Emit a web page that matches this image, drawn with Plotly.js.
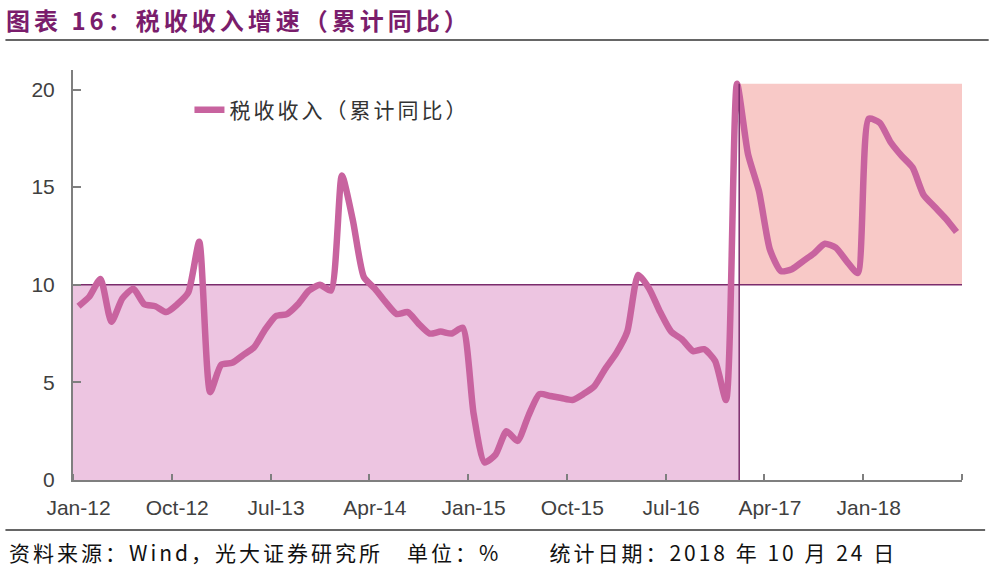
<!DOCTYPE html>
<html>
<head>
<meta charset="utf-8">
<script src="https://cdn.plot.ly/plotly-3.0.1.min.js"></script>
<style>
  html, body { margin: 0; padding: 0; background: #ffffff; }
  #chart { width: 1000px; height: 571px; }
  .gtitle { letter-spacing: 4px; }
  .legendtext { letter-spacing: 3px; }
  .annotation-text { letter-spacing: 3px; }
</style>
</head>
<body>
<div id="chart"></div>
<script>
// ---- data: cumulative YoY growth of tax revenue (%), monthly Jan-12 .. Sep-18 ----
var startYear = 2012;
var vals2012 = [8.9, 9.4, 10.3, 8.1, 9.3, 9.8, 9.0, 8.9, 8.6, 9.0, 9.6, 12.2];
var vals2013 = [4.5, 5.9, 6.0, 6.4, 6.8, 7.7, 8.4, 8.5, 9.0, 9.7, 10.0, 9.7];
var vals2014 = [15.6, 13.3, 10.4, 9.8, 9.1, 8.5, 8.6, 8.0, 7.5, 7.6, 7.5, 7.8];
var vals2015 = [3.4, 0.9, 1.3, 2.5, 2.0, 3.3, 4.4, 4.3, 4.2, 4.1, 4.4, 4.8];
var vals2016 = [5.7, 6.5, 7.6, 10.5, 9.8, 8.6, 7.6, 7.2, 6.6, 6.7, 6.1, 4.1];
var vals2017 = [20.3, 16.7, 14.8, 11.8, 10.7, 10.8, 11.2, 11.6, 12.1, 11.9, 11.2, 10.6];
var vals2018 = [18.5, 18.3, 17.3, 16.6, 16.0, 14.6, 14.0, 13.4, 12.7];

var tickLabels = ['Jan-12', 'Oct-12', 'Jul-13', 'Apr-14', 'Jan-15', 'Oct-15', 'Jul-16', 'Apr-17', 'Jan-18'];
var seriesName = '税收收入（累计同比）';
var titleText = '图表 16：税收收入增速（累计同比）';
var footerText = '资料来源：Wind，光大证券研究所　单位：%　　统计日期：2018 年 10 月 24 日';

// ---- build ----
var values = [].concat(vals2012, vals2013, vals2014, vals2015, vals2016, vals2017, vals2018);
var monNames = ['Jan','Feb','Mar','Apr','May','Jun','Jul','Aug','Sep','Oct','Nov','Dec'];
var monthLabels = values.map(function (v, i) {
  var y = startYear + Math.floor(i / 12);
  return monNames[i % 12] + '-' + String(y).slice(2);
});
// month i is drawn at the middle of its month slot
var xs = values.map(function (v, i) { return i + 0.5; });
var nSlots = values.length; // axis runs from start of Jan-12 to end of Sep-18
var labelVals = tickLabels.map(function (t, k) { return k * 9 + 0.5; });
var tickMarks = [];
for (var k = 0; k <= nSlots; k += 9) tickMarks.push(k);

var peakIdx = 60; // Jan-17
var peakX = xs[peakIdx] + 0.2;
var peakY = values[peakIdx];

var lineColor = '#c8639f';
var darkLine = '#7b2c6c';

var trace = {
  x: xs,
  y: values,
  text: monthLabels,
  type: 'scatter',
  mode: 'lines',
  name: seriesName,
  line: { color: lineColor, width: 6.5, shape: 'spline', smoothing: 0.6 },
  hovertemplate: '%{text}: %{y:.1f}%<extra></extra>'
};

var layout = {
  width: 1000,
  height: 571,
  margin: { l: 73, r: 38, t: 70, b: 91 },
  paper_bgcolor: '#ffffff',
  plot_bgcolor: '#ffffff',
  font: { family: 'Liberation Sans, Arial, sans-serif', color: '#404040' },
  showlegend: true,
  legend: {
    x: 0.131, y: 0.902, xanchor: 'left', yanchor: 'middle',
    bgcolor: 'rgba(0,0,0,0)',
    font: { family: 'Noto Sans CJK SC, sans-serif', size: 21, color: '#333333' }
  },
  title: {
    text: '<b>' + titleText + '</b>',
    x: 0.006, xanchor: 'left', xref: 'container',
    y: 0.962, yanchor: 'middle', yref: 'container',
    font: { family: 'Noto Sans CJK SC, sans-serif', size: 24, color: '#7a1d6c' }
  },
  xaxis: {
    range: [0, nSlots],
    tickmode: 'array',
    tickvals: labelVals,
    ticktext: tickLabels,
    ticks: '',
    showgrid: false,
    zeroline: false,
    showline: true,
    linecolor: '#7f7f7f',
    linewidth: 2,
    tickfont: { family: 'Liberation Sans, Arial, sans-serif', size: 21, color: '#404040' },
    ticklabelstandoff: 8,
    minor: { tickmode: 'array', tickvals: tickMarks, ticks: 'inside', ticklen: 6, tickwidth: 2, tickcolor: '#7f7f7f', showgrid: false },
    fixedrange: true
  },
  yaxis: {
    range: [0, 21],
    tickmode: 'array',
    tickvals: [0, 5, 10, 15, 20],
    ticks: 'inside',
    ticklen: 8,
    tickwidth: 2,
    tickcolor: '#7f7f7f',
    showgrid: false,
    zeroline: false,
    showline: true,
    linecolor: '#7f7f7f',
    linewidth: 2,
    tickfont: { family: 'Liberation Sans, Arial, sans-serif', size: 21, color: '#404040' },
    ticklabelstandoff: 12,
    fixedrange: true
  },
  shapes: [
    // lower-left shaded zone (growth below 10%)
    { type: 'rect', xref: 'x', yref: 'y', x0: 0, x1: peakX, y0: 0, y1: 10,
      fillcolor: '#edc5e1', line: { width: 0 }, layer: 'below' },
    // upper-right shaded zone (growth above 10%)
    { type: 'rect', xref: 'x', yref: 'y', x0: peakX, x1: nSlots, y0: 10, y1: peakY,
      fillcolor: '#f8c9c7', line: { width: 0 }, layer: 'below' },
    // 10% reference line
    { type: 'line', xref: 'x', yref: 'y', x0: 0, x1: nSlots, y0: 10, y1: 10,
      line: { color: darkLine, width: 1.5 }, layer: 'below' },
    // vertical divider
    { type: 'line', xref: 'x', yref: 'y', x0: peakX, x1: peakX, y0: 0, y1: peakY,
      line: { color: darkLine, width: 1.5 }, layer: 'above' },
    // header rule
    { type: 'line', xref: 'paper', yref: 'paper', x0: -0.076, x1: 1.03, y0: 1.073, y1: 1.073,
      line: { color: '#333333', width: 1.5 } },
    // footer rule
    { type: 'line', xref: 'paper', yref: 'paper', x0: -0.076, x1: 1.026, y0: -0.122, y1: -0.122,
      line: { color: '#333333', width: 1.5 } }
  ],
  annotations: [
    { text: footerText, xref: 'paper', yref: 'paper', x: -0.074, y: -0.175,
      xanchor: 'left', yanchor: 'middle', showarrow: false,
      font: { family: 'Noto Sans CJK SC, sans-serif', size: 21, color: '#111111' } }
  ]
};

Plotly.newPlot('chart', [trace], layout, { displayModeBar: false, staticPlot: false });
</script>
</body>
</html>
